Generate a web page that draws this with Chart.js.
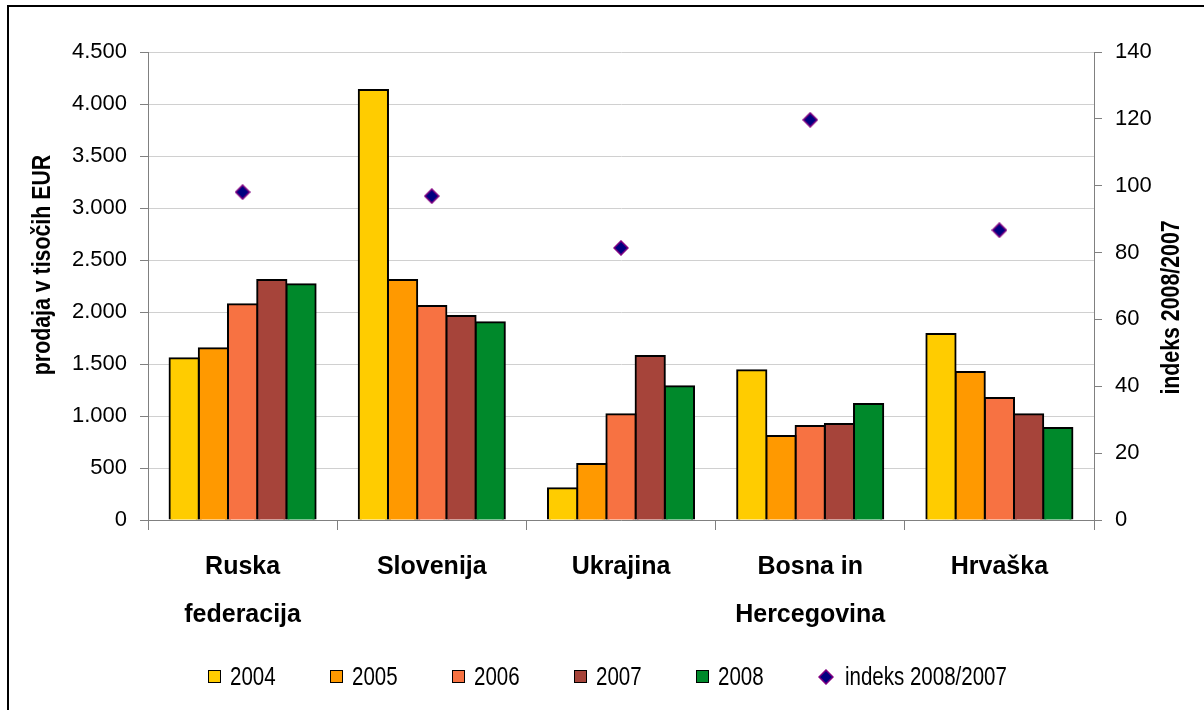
<!DOCTYPE html>
<html>
<head>
<meta charset="utf-8">
<script src="https://cdn.jsdelivr.net/npm/chart.js@4.4.1/dist/chart.umd.min.js"></script>
<style>
  html, body { margin: 0; padding: 0; background: #fff; }
  #wrap { position: relative; width: 1204px; height: 710px; overflow: hidden; }
  #c { position: absolute; left: 0; top: 0; }
  .lg-box { position: absolute; width: 11px; height: 11px; border: 1.5px solid #000; }
  .lg-text { position: absolute; font-family: 'Liberation Sans', Arial, sans-serif; font-size: 25px;
             line-height: 25px; color: #000; white-space: nowrap; transform: scaleX(0.82); transform-origin: 0 50%; }
  .lg-mark { position: absolute; }
</style>
</head>
<body>
<div id="wrap"><canvas id="c" width="1204" height="710"></canvas><div id="legend"></div></div>
<script>
const categories = [['Ruska', 'federacija'], ['Slovenija'], ['Ukrajina'], ['Bosna in', 'Hercegovina'], ['Hrvaška']];
const seriesNames = ['2004', '2005', '2006', '2007', '2008'];
const values2004 = [1555, 4135, 305, 1439, 1788];
const values2005 = [1651, 2308, 538, 808, 1423];
const values2006 = [2074, 2058, 1016, 904, 1173];
const values2007 = [2308, 1962, 1577, 923, 1016];
const values2008 = [2266, 1901, 1285, 1115, 885];
const indexName = 'indeks 2008/2007';
const indexValues = [98.1, 96.9, 81.4, 119.7, 86.7];
const leftTicks = ['0', '500', '1.000', '1.500', '2.000', '2.500', '3.000', '3.500', '4.000', '4.500'];
const rightTicks = ['0', '20', '40', '60', '80', '100', '120', '140'];
const leftTitle = 'prodaja v tisočih EUR';
const rightTitle = 'indeks 2008/2007';

const barColors = ['#FFCC00', '#FF9900', '#F77242', '#A6443A', '#00892B'];
const FONT = "'Liberation Sans', Arial, sans-serif";

function drawDiamond(cv) {
  const g = cv.getContext('2d');
  g.beginPath();
  g.moveTo(8, 1); g.lineTo(15, 8); g.lineTo(8, 15); g.lineTo(1, 8); g.closePath();
  g.fillStyle = '#000080'; g.fill();
  g.lineWidth = 1.5; g.strokeStyle = '#800080'; g.stroke();
}
const diamond = document.createElement('canvas');
diamond.width = 16; diamond.height = 16;
drawDiamond(diamond);

const barSeries = [values2004, values2005, values2006, values2007, values2008];
const datasets = barSeries.map((vals, i) => ({
  type: 'bar',
  label: seriesNames[i],
  data: vals,
  backgroundColor: barColors[i],
  borderColor: '#000000',
  borderWidth: 2,
  inflateAmount: 1,
  yAxisID: 'y',
  categoryPercentage: 0.772,
  barPercentage: 1.0
}));
datasets.push({
  type: 'line',
  label: indexName,
  data: indexValues,
  yAxisID: 'y1',
  showLine: false,
  pointStyle: diamond,
  pointRadius: 7,
  borderColor: '#800080',
  backgroundColor: '#000080',
  borderWidth: 1
});

function drawTitle(ctx, text, x, y) {
  ctx.save();
  ctx.fillStyle = '#000';
  ctx.font = 'bold 26px ' + FONT;
  ctx.textAlign = 'center';
  ctx.textBaseline = 'middle';
  ctx.translate(x, y);
  ctx.rotate(-Math.PI / 2);
  ctx.scale(0.82, 1);
  ctx.fillText(text, 0, 0);
  ctx.restore();
}

const framePlugin = {
  id: 'frame',
  beforeDraw(chart) {
    const ctx = chart.ctx;
    ctx.save();
    ctx.strokeStyle = '#000';
    ctx.lineWidth = 2;
    ctx.beginPath();
    ctx.moveTo(8, 710); ctx.lineTo(8, 6); ctx.lineTo(1204, 6);
    ctx.stroke();
    ctx.restore();
  },
  afterDraw(chart) {
    drawTitle(chart.ctx, leftTitle, 42.5, 265);
    drawTitle(chart.ctx, rightTitle, 1172, 307.5);
  }
};

const chart = new Chart(document.getElementById('c'), {
  data: { labels: categories, datasets },
  options: {
    responsive: false,
    animation: false,
    layout: { padding: { top: 52, left: 0, right: 0, bottom: 60 } },
    plugins: {
      tooltip: { enabled: false },
      legend: { display: false }
    },
    scales: {
      x: {
        offset: true,
        grid: { offset: true, drawOnChartArea: false, drawTicks: true, tickLength: 10, tickColor: '#808080' },
        border: { color: '#808080', width: 1 },
        ticks: {
          color: '#000', padding: 13, maxRotation: 0, autoSkip: false,
          font: { family: FONT, size: 25, weight: 'bold', lineHeight: 1.92 }
        },
        afterFit(s) { s.height = 130; }
      },
      y: {
        position: 'left',
        min: 0, max: 4500,
        grid: { color: '#d0d0d0', lineWidth: 1, tickLength: 8, tickColor: '#808080' },
        border: { color: '#808080', width: 1 },
        ticks: {
          stepSize: 500, color: '#000', padding: 13,
          font: { family: FONT, size: 22 },
          callback: (v, i) => leftTicks[i]
        },
        afterFit(s) { s.width = 148; }
      },
      y1: {
        position: 'right',
        min: 0, max: 140,
        grid: { drawOnChartArea: false, tickLength: 8, tickColor: '#808080' },
        border: { color: '#808080', width: 1 },
        ticks: {
          stepSize: 20, color: '#000', padding: 13,
          font: { family: FONT, size: 22 },
          callback: (v, i) => rightTicks[i]
        },
        afterFit(s) { s.width = 110; }
      }
    }
  },
  plugins: [framePlugin]
});

// HTML legend built from the datasets
(function () {
  const lg = document.getElementById('legend');
  const cy = 677;
  let x = 208;
  chart.data.datasets.forEach((ds, i) => {
    if (ds.type === 'bar') {
      const b = document.createElement('div');
      b.className = 'lg-box';
      b.style.left = x + 'px';
      b.style.top = (cy - 7) + 'px';
      b.style.background = ds.backgroundColor;
      lg.appendChild(b);
      const t = document.createElement('div');
      t.className = 'lg-text';
      t.textContent = ds.label;
      t.style.left = (x + 22) + 'px';
      t.style.top = (cy - 13) + 'px';
      lg.appendChild(t);
      x += 122;
    } else {
      const m = document.createElement('canvas');
      m.className = 'lg-mark';
      m.width = 16; m.height = 16;
      drawDiamond(m);
      m.style.left = (826 - 8) + 'px';
      m.style.top = (cy - 8) + 'px';
      lg.appendChild(m);
      const t = document.createElement('div');
      t.className = 'lg-text';
      t.textContent = ds.label;
      t.style.left = '845px';
      t.style.top = (cy - 13) + 'px';
      lg.appendChild(t);
    }
  });
})();
</script>
</body>
</html>
